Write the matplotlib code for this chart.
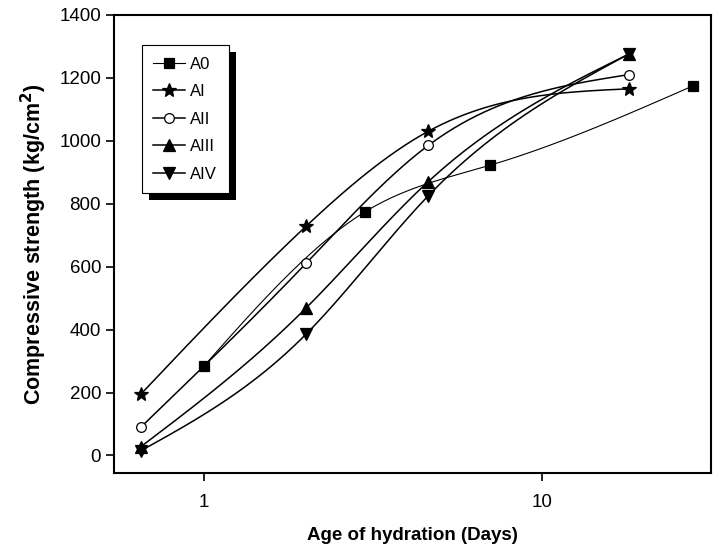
import numpy as np
import matplotlib
matplotlib.use("Agg")
import matplotlib.pyplot as plt
from matplotlib.patches import Rectangle

plt.rcParams['font.family'] = ['Liberation Sans', 'DejaVu Sans']

# data (days, kg/cm2)
days_a0 = [1, 3, 7, 28]
a0 = [285, 775, 922, 1175]

days = [0.65, 2, 4.6, 18]
ai = [195, 728, 1030, 1165]
aii = [90, 610, 985, 1210]
aiii = [28, 468, 870, 1275]
aiv = [15, 385, 825, 1275]


def smooth(x, y, n=200):
    # natural cubic spline in log-x space
    t = np.log10(np.asarray(x, float))
    y = np.asarray(y, float)
    k = len(t)
    h = np.diff(t)
    A = np.zeros((k, k))
    b = np.zeros(k)
    A[0, 0] = A[-1, -1] = 1
    for i in range(1, k - 1):
        A[i, i - 1] = h[i - 1]
        A[i, i] = 2 * (h[i - 1] + h[i])
        A[i, i + 1] = h[i]
        b[i] = 6 * ((y[i + 1] - y[i]) / h[i] - (y[i] - y[i - 1]) / h[i - 1])
    m = np.linalg.solve(A, b)
    tt = np.linspace(t[0], t[-1], n)
    yy = np.empty_like(tt)
    for j, v in enumerate(tt):
        i = min(np.searchsorted(t, v, side='right') - 1, k - 2)
        a = t[i + 1] - v
        c = v - t[i]
        yy[j] = (m[i] * a**3 + m[i + 1] * c**3) / (6 * h[i]) \
            + (y[i] / h[i] - m[i] * h[i] / 6) * a \
            + (y[i + 1] / h[i] - m[i + 1] * h[i] / 6) * c
    return 10**tt, yy


fig = plt.figure(figsize=(7.14, 5.51), dpi=100)
ax = fig.add_axes([0.160, 0.142, 0.836, 0.831])

series = [
    (days_a0, a0, 's', 'A0', 7, 0.8),
    (days, ai, '*', 'AI', 10, 1.1),
    (days, aii, 'o', 'AII', 7, 1.1),
    (days, aiii, '^', 'AIII', 8, 1.1),
    (days, aiv, 'v', 'AIV', 8, 1.1),
]

handles = []
for x, y, mk, name, ms, lw in series:
    sx, sy = smooth(x, y)
    ax.plot(sx, sy, color='black', lw=lw, zorder=2)
    face = 'white' if mk == 'o' else 'black'
    ax.plot(x, y, linestyle='none', marker=mk, ms=ms, mfc=face,
            mec='black', mew=0.9, zorder=3)
    h, = ax.plot([], [], color='black', lw=lw, marker=mk, ms=ms,
                 mfc=face, mec='black', mew=0.9, label=name)
    handles.append(h)

ax.set_xscale('log')
ax.set_xlim(0.542, 31.6)
ax.set_ylim(-55, 1400)
ax.set_xticks([1, 10])
ax.set_xticklabels(['1', '10'])
ax.xaxis.set_minor_locator(matplotlib.ticker.NullLocator())
ax.set_yticks(np.arange(0, 1401, 200))

ax.tick_params(direction='out', length=6, width=1.2, labelsize=13.5,
               top=False, right=False)
ax.tick_params(axis='x', pad=9)
for s in ax.spines.values():
    s.set_linewidth(1.5)

ax.set_xlabel('Age of hydration (Days)', fontsize=13.5, fontweight='bold',
              labelpad=12)
ax.set_ylabel('Compressive strength (kg/cm$\\mathbf{^2}$)', fontsize=15.5,
              fontweight='bold', labelpad=7)

leg = ax.legend(handles=handles, loc='upper left',
                bbox_to_anchor=(0.046, 0.934), fontsize=12,
                frameon=True, fancybox=False, edgecolor='black',
                framealpha=1, handlelength=1.9, handletextpad=0.3,
                labelspacing=0.75, borderpad=0.7, borderaxespad=0)
leg.get_frame().set_linewidth(0.8)
leg.set_zorder(6)

# solid black drop shadow behind the legend box
fig.canvas.draw()
bb = leg.get_window_extent().transformed(fig.transFigure.inverted())
dx, dy = 7 / 714, 7 / 551
ax.add_patch(Rectangle((bb.x0 + dx, bb.y0 - dy), bb.width, bb.height,
                       transform=fig.transFigure, facecolor='black',
                       edgecolor='none', zorder=5, clip_on=False))

fig.savefig('out.png', dpi=100)
